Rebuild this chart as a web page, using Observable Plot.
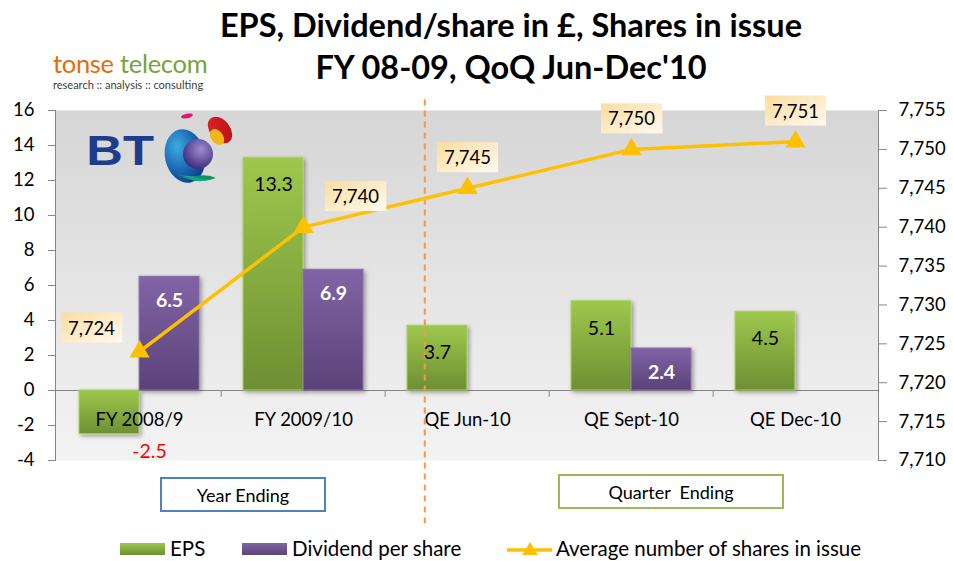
<!DOCTYPE html>
<html><head><meta charset="utf-8">
<script src="https://cdn.jsdelivr.net/npm/d3@7"></script>
<script src="https://cdn.jsdelivr.net/npm/@observablehq/plot@0.6"></script>
<style>
body{margin:0;background:#fff;}
#wrap{position:relative;width:953px;height:561px;overflow:hidden;background:#fff;font-family:Lato,"Open Sans",sans-serif;}
#wrap svg.plot{position:absolute;left:0;top:0;}
.abs{position:absolute;}
#title{left:0;top:4px;width:1022px;text-align:center;font-weight:bold;font-size:32.5px;line-height:42px;color:#000;}
.box{font-size:18px;text-align:center;color:#000;background:#fff;box-sizing:border-box;}
.leg{font-size:20.5px;color:#000;top:536px;white-space:nowrap;line-height:24px;}
.sw{position:absolute;top:7px;width:45px;height:12px;}
</style></head>
<body>
<div id="wrap">
  <div id="chart"></div>
  <div id="title" class="abs">EPS, Dividend/share in £, Shares in issue<br>FY 08-09, QoQ Jun-Dec'10</div>
  <div class="abs" style="left:53px;top:51px;font-size:25.5px;line-height:24px;letter-spacing:-0.3px;white-space:nowrap"><span style="color:#e46c0a">tonse</span> <span style="color:#77a33c">telecom</span></div>
  <div class="abs" style="left:53px;top:79px;font-size:11px;line-height:11px;color:#404040;white-space:nowrap">research :: analysis :: consulting</div>
  <svg class="abs" style="left:84px;top:110px" width="160" height="80" viewBox="0 0 160 80">
    <defs>
      <radialGradient id="btBlue" cx="0.35" cy="0.3" r="0.75"><stop offset="0" stop-color="#3fa9e0"/><stop offset="0.6" stop-color="#1a67b4"/><stop offset="1" stop-color="#0f3a85"/></radialGradient>
      <radialGradient id="btPurp" cx="0.6" cy="0.35" r="0.7"><stop offset="0" stop-color="#a08bd0"/><stop offset="1" stop-color="#3a2878"/></radialGradient>
      <linearGradient id="btRed" x1="0" y1="0" x2="1" y2="1"><stop offset="0" stop-color="#e4251f"/><stop offset="1" stop-color="#b3101a"/></linearGradient>
    </defs>
    <text x="2" y="55" font-family="Liberation Sans,Arial" font-weight="bold" font-size="43" fill="#1e3b8c" transform="scale(1.18 1)">BT</text>
    <ellipse cx="101" cy="46" rx="20" ry="27" transform="rotate(-12 101 46)" fill="url(#btBlue)"/>
    <circle cx="114" cy="44" r="15" fill="url(#btPurp)"/>
    <path d="M93 64 Q112 76 132 68 Q124 64 112 66 Q100 66 93 64 Z" fill="#10905a"/>
    <path d="M100 66 Q114 74 128 69 Q116 70 106 66Z" fill="#1aa0a8"/>
    <ellipse cx="136" cy="20" rx="10" ry="15" transform="rotate(-38 136 20)" fill="url(#btRed)"/>
    <ellipse cx="133" cy="27" rx="6" ry="9" transform="rotate(-38 133 27)" fill="#f7b51c"/>
    <ellipse cx="103" cy="6" rx="6" ry="2.2" transform="rotate(-12 103 6)" fill="#e2186f"/>
  </svg>
  <div class="abs box" style="left:160px;top:477px;width:166px;height:35px;line-height:33px;border:2px solid #4f81bd;">Year Ending</div>
  <div class="abs box" style="left:558px;top:474px;width:226px;height:35px;line-height:33px;border:2px solid #9bbb59;">Quarter&nbsp; Ending</div>
  <div class="abs leg" style="left:120px;padding-left:50px"><span class="sw" style="left:0;background:linear-gradient(#9bc84b,#6f8f32)"></span>EPS</div>
  <div class="abs leg" style="left:242px;padding-left:50px"><span class="sw" style="left:0;background:linear-gradient(#8064a2,#5c4479)"></span>Dividend per share</div>
  <div class="abs leg" style="left:507px;padding-left:49px"><svg class="sw" style="left:0;top:4px;height:18px" width="46" height="18"><line x1="0" y1="10" x2="46" y2="10" stroke="#ffc000" stroke-width="3.5"/><path d="M23 2 L31 15 L15 15 Z" fill="#ffc000"/></svg>Average number of shares in issue</div>
</div>
<script>
// ---- data ----
const categories = ["FY 2008/9", "FY 2009/10", "QE Jun-10", "QE Sept-10", "QE Dec-10"];
const eps = [-2.5, 13.3, 3.7, 5.1, 4.5];
const dividend = [6.5, 6.9, null, 2.4, null];
const shares = [7724, 7740, 7745, 7750, 7751];
const leftTicks = [-4, -2, 0, 2, 4, 6, 8, 10, 12, 14, 16];
const rightTicks = [7710, 7715, 7720, 7725, 7730, 7735, 7740, 7745, 7750, 7755];
const dividerAfter = "FY 2009/10";

// secondary axis mapping (shares -> primary axis units)
const L = [leftTicks[0], leftTicks[leftTicks.length - 1]];
const R = [rightTicks[0], rightTicks[rightTicks.length - 1]];
const toLeft = s => L[0] + (s - R[0]) * (L[1] - L[0]) / (R[1] - R[0]);
const fromLeft = v => R[0] + (v - L[0]) * (R[1] - R[0]) / (L[1] - L[0]);

const W = 953, H = 561, mL = 55, mR = 75, mT = 110, mB = 101;
const step = (W - mL - mR) / categories.length;
const half = step * (1 - 0.27) / 2;

const epsData = categories.map((c, i) => ({c, v: eps[i]}));
const divData = categories.map((c, i) => ({c, v: dividend[i]})).filter(d => d.v != null);
const shareData = categories.map((c, i) => ({c, s: shares[i], y: toLeft(shares[i])}));
const fmt = d3.format(",");

const chart = Plot.plot({
  width: W, height: H, marginLeft: mL, marginRight: mR, marginTop: mT, marginBottom: mB,
  style: {fontFamily: "Lato, sans-serif", fontSize: "18px", color: "#000", background: "transparent", overflow: "visible"},
  x: {domain: categories, paddingInner: 0.27, paddingOuter: 0.135, axis: null},
  y: {domain: L, axis: null},
  marks: [
    Plot.frame({fill: "url(#bgGrad)", stroke: null}),
    Plot.axisY({ticks: leftTicks, tickFormat: d => String(d), tickSize: 7, tickPadding: 14, stroke: "#868686", fill: "#000", fontSize: 18.5}),
    Plot.axisY(rightTicks.map(toLeft), {anchor: "right", tickFormat: d => fmt(Math.round(fromLeft(d))), tickSize: 8, tickPadding: 12, stroke: "#868686", fill: "#000", fontSize: 18.5}),
    Plot.frame({anchor: "left", stroke: "#868686"}),
    Plot.frame({anchor: "right", stroke: "#868686"}),
    Plot.ruleY([0], {stroke: "#868686", strokeWidth: 1.2}),
    Plot.ruleX(categories.slice(1), {x: d => d, y1: 0, y2: -0.4, dx: -step / 2, stroke: "#868686"}),
    Plot.barY(epsData, {x: "c", y: "v", insetRight: half, fill: "url(#gGreen)", stroke: "#a9d15e", strokeWidth: 1, className: "bars"}),
    Plot.barY(divData, {x: "c", y: "v", insetLeft: half, fill: "url(#gPurple)", stroke: "#8a6fae", strokeWidth: 1, className: "bars"}),
    Plot.text(categories, {x: d => d, y: 0, dy: 30, text: d => d, fill: "#000", fontSize: 18.5}),
    Plot.ruleX([dividerAfter], {x: d => d, y1: L[1] + 0.6, y2: L[0] - 3.7, dx: step / 2 + 39, stroke: "#f79646", strokeWidth: 2, strokeDasharray: "6,5", clip: false}),
    Plot.text(epsData.filter(d => d.v >= 0), {x: "c", y: "v", text: d => d.v.toFixed(1), dx: -half / 2, dy: 27, fill: "#000", fontSize: 19.5}),
    Plot.text(epsData.filter(d => d.v < 0), {x: "c", y: "v", text: d => d.v.toFixed(1), dx: 10, dy: 17, fill: "#ff0000", fontSize: 19.5}),
    Plot.text(divData, {x: "c", y: "v", text: d => d.v.toFixed(1), dx: half / 2, dy: 24, fill: "#fff", fontWeight: "bold", fontSize: 19.5}),
    Plot.line(shareData, {x: "c", y: "y", stroke: "#ffc000", strokeWidth: 3.5}),
    Plot.dot(shareData, {x: "c", y: "y", symbol: "triangle", r: 7.5, fill: "#ffc000", stroke: null}),
    Plot.text(shareData.slice(0, 1), {x: "c", y: "y", text: d => fmt(d.s), dx: -48, dy: -23, fill: "#000", fontSize: 18.5, className: "slbl"}),
    Plot.text(shareData.slice(1, 2), {x: "c", y: "y", text: d => fmt(d.s), dx: 52, dy: -30, fill: "#000", fontSize: 18.5, className: "slbl"}),
    Plot.text(shareData.slice(2), {x: "c", y: "y", text: d => fmt(d.s), dy: -30, fill: "#000", fontSize: 18.5, className: "slbl"})
  ]
});
chart.classList.add("plot");
const ns = "http://www.w3.org/2000/svg";
const defs = document.createElementNS(ns, "defs");
defs.innerHTML = `
  <linearGradient id="bgGrad" x1="0" y1="0" x2="0" y2="1"><stop offset="0" stop-color="#d6d6d6"/><stop offset="1" stop-color="#f3f3f3"/></linearGradient>
  <linearGradient id="gGreen" x1="0" y1="0" x2="0" y2="1"><stop offset="0" stop-color="#9dc84c"/><stop offset="1" stop-color="#6e8f33"/></linearGradient>
  <linearGradient id="gPurple" x1="0" y1="0" x2="0" y2="1"><stop offset="0" stop-color="#8164a6"/><stop offset="1" stop-color="#5a4278"/></linearGradient>
  <linearGradient id="gLbl" x1="0" y1="0" x2="1" y2="1"><stop offset="0" stop-color="#fddc9e"/><stop offset="1" stop-color="#fffaf0"/></linearGradient>
  <filter id="shadow" x="-20%" y="-20%" width="150%" height="150%"><feDropShadow dx="2" dy="2" stdDeviation="2" flood-color="#000" flood-opacity="0.35"/></filter>`;
chart.insertBefore(defs, chart.firstChild);
document.getElementById("chart").appendChild(chart);
chart.querySelectorAll("g.bars").forEach(g => g.setAttribute("filter", "url(#shadow)"));
chart.querySelectorAll("g.slbl text").forEach(t => {
  const b = t.getBBox();
  const r = document.createElementNS(ns, "rect");
  r.setAttribute("x", b.x - 7); r.setAttribute("y", b.y - 4);
  r.setAttribute("width", b.width + 14); r.setAttribute("height", b.height + 8);
  r.setAttribute("fill", "url(#gLbl)");
  const tr = t.getAttribute("transform"); if (tr) r.setAttribute("transform", tr);
  t.parentNode.insertBefore(r, t);
});
</script>
</body></html>
